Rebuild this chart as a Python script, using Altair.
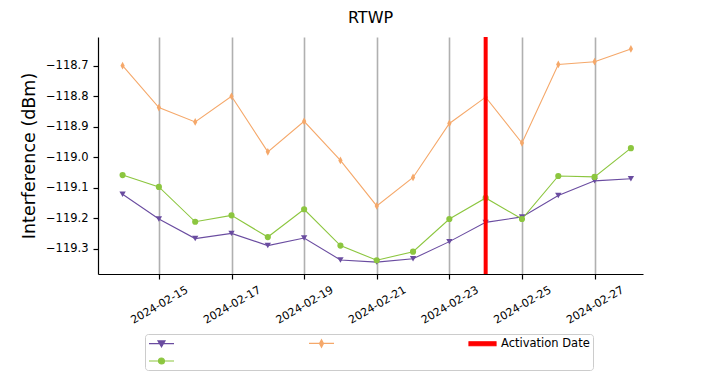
import altair as alt
import pandas as pd

# ---------------- data ----------------
dates = ["2024-02-14", "2024-02-15", "2024-02-16", "2024-02-17", "2024-02-18",
         "2024-02-19", "2024-02-20", "2024-02-21", "2024-02-22", "2024-02-23",
         "2024-02-24", "2024-02-25", "2024-02-26", "2024-02-27", "2024-02-28"]

series_names = ["Min RTWP", "Max RTWP", "Avg RTWP"]

purple_vals = [-119.121, -119.202, -119.266, -119.249, -119.289, -119.264, -119.336, -119.343,
               -119.332, -119.276, -119.213, -119.195, -119.125, -119.077, -119.070]
orange_vals = [-118.700, -118.837, -118.884, -118.800, -118.982, -118.882, -119.010, -119.159,
               -119.066, -118.889, -118.803, -118.953, -118.696, -118.687, -118.645]
green_vals = [-119.058, -119.097, -119.211, -119.190, -119.261, -119.170, -119.289, -119.337,
              -119.309, -119.202, -119.133, -119.202, -119.061, -119.064, -118.970]

activation_label = "Activation Date"
activation_date = "2024-02-24"

x_tick_dates = ["2024-02-15", "2024-02-17", "2024-02-19", "2024-02-21",
                "2024-02-23", "2024-02-25", "2024-02-27"]
y_ticks = [-119.3, -119.2, -119.1, -119.0, -118.9, -118.8, -118.7]

# ---------------- styles ----------------
PURPLE = "#6a4ca0"
ORANGE = "#f5a86a"
GREEN = "#8cc63f"
RED = "#ff0000"
FONT = "DejaVu Sans"

series_vals = [purple_vals, orange_vals, green_vals]
series_colors = [PURPLE, ORANGE, GREEN]
thin_diamond = "M0,-1L0.55,0L0,1L-0.55,0Z"
series_shapes = ["triangle-down", thin_diamond, "circle"]
series_sizes = [40, 60, 38]

rows = []
for name, vals in zip(series_names, series_vals):
    for d, v in zip(dates, vals):
        rows.append({"date": d, "value": v, "series": name})
df = pd.DataFrame(rows)
df_act = pd.DataFrame({"date": [activation_date], "series": [activation_label]})


def dt(s, h=0, m=0):
    y, mo, d = (int(p) for p in s.split("-"))
    return alt.DateTime(year=y, month=mo, date=d, hours=h, minutes=m, utc=True)


x_scale = alt.Scale(type="utc", domain=[dt("2024-02-13", 7, 45), dt("2024-02-28", 8, 0)])
y_scale = alt.Scale(domain=[-119.382, -118.606], nice=False, zero=False)

x_axis = alt.Axis(
    values=[dt(s) for s in x_tick_dates],
    labelExpr="utcFormat(datum.value, '%Y-%m-%d')",
    title=None, grid=True, gridColor="#b0b0b0", gridWidth=1.6, gridOpacity=1,
    labelAngle=330, labelAlign="right", labelBaseline="middle",
    labelOffset=28, labelPadding=10, labelFontSize=11,
)
y_axis = alt.Axis(
    values=y_ticks,
    labelExpr="replace(format(datum.value, '.1f'), '-', '\u2212')",
    title="Interference (dBm)", titleFontSize=17.5, titleFontWeight="normal",
    titlePadding=7, grid=False, labelFontSize=11.5, labelPadding=5,
)

X = alt.X("date:T", scale=x_scale, axis=x_axis)
Y = alt.Y("value:Q", scale=y_scale, axis=y_axis)

layers = []
for name, color in zip(series_names, series_colors):
    layers.append(
        alt.Chart(df).transform_filter(alt.datum.series == name)
        .mark_line(color=color, strokeWidth=1.1)
        .encode(x=X, y=Y)
    )
for name, color, shape, size in zip(series_names, series_colors, series_shapes, series_sizes):
    layers.append(
        alt.Chart(df).transform_filter(alt.datum.series == name)
        .mark_point(shape=shape, filled=True, color=color, size=size, opacity=1)
        .encode(x=X, y=Y)
    )

layers.append(
    alt.Chart(df_act).mark_rule(color=RED, strokeWidth=4).encode(x=alt.X("date:T"))
)

# legend layer (invisible marks, legend only)
legend_domain = [series_names[0], series_names[1], activation_label, series_names[2]]
legend_colors = [PURPLE, ORANGE, RED, GREEN]
legend_shapes = [
    "M-1,0H4M0.8,-0.55L2.2,-0.55L1.5,0.65Z",
    "M-1,0H4M1.5,-0.75L1.9,0L1.5,0.75L1.1,0Z",
    "M-1,-0.4H4.4V0.4H-1Z",
    "M-1,0H4M0.9,0A0.6,0.6 0 1,0 2.1,0A0.6,0.6 0 1,0 0.9,0Z",
]
legend = alt.Legend(
    title=None, orient="none", legendX=47, legendY=297, direction="horizontal",
    columns=3, columnPadding=125, rowPadding=5,
    symbolSize=100, symbolStrokeWidth=1.2, symbolOpacity=1,
    labelExpr=f"datum.label == '{activation_label}' ? datum.label : ''",
    labelFont=FONT, labelFontSize=11.5, labelColor="black", labelOffset=21,
    padding=3, strokeColor="#cccccc", fillColor="white", cornerRadius=3,
)
layers.append(
    alt.Chart(df).mark_point(filled=True, size=0, strokeWidth=1.2).encode(
        x=X, y=Y,
        color=alt.Color("series:N", scale=alt.Scale(domain=legend_domain, range=legend_colors), legend=legend),
        stroke=alt.Stroke("series:N", scale=alt.Scale(domain=legend_domain, range=legend_colors), legend=legend),
        shape=alt.Shape("series:N", scale=alt.Scale(domain=legend_domain, range=legend_shapes), legend=legend),
    )
)

chart = (
    alt.layer(*layers)
    .properties(
        width=545, height=237,
        title=alt.TitleParams("RTWP", fontSize=16, fontWeight="normal", font=FONT, color="black", offset=9),
        autosize=alt.AutoSizeParams(type="none"),
        padding={"left": 90, "top": 29, "right": 57, "bottom": 97},
    )
    .configure_view(strokeWidth=0)
    .configure_axis(
        domainColor="black", domainWidth=1.2, tickColor="black", tickWidth=1.2, tickSize=5,
        labelColor="black", labelFont=FONT, titleFont=FONT, titleColor="black",
    )
)

chart.save("out.html", embed_options={"renderer": "svg", "actions": False})
